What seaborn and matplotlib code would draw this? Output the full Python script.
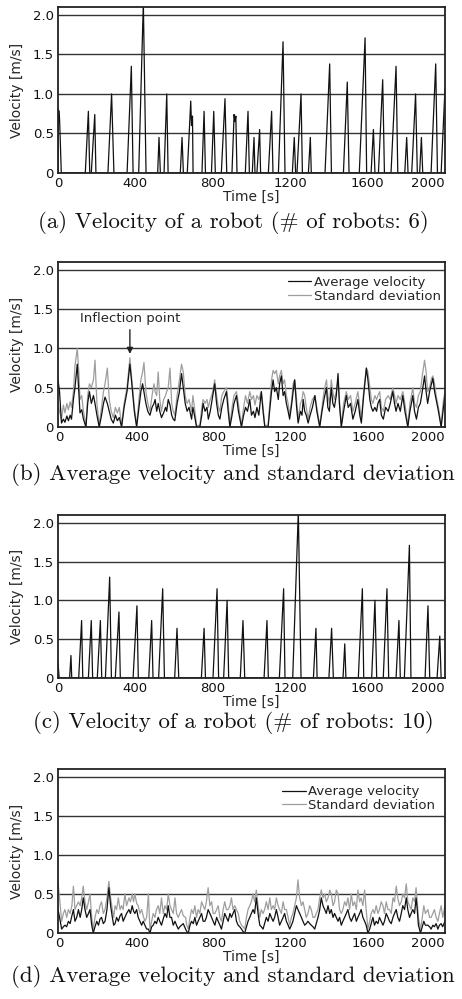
import numpy as np
import pandas as pd
import matplotlib
matplotlib.use('Agg')
import matplotlib.pyplot as plt
import seaborn as sns

# ---- (a) velocity of a single robot, 6 robots ----
time_a = [0, 2, 6, 9, 17,
          141, 157, 164, 172, 190, 196, 258, 277, 289, 357, 379, 388,
          417, 441, 455, 515, 522, 529, 548, 562, 569, 632, 641, 648,
          668, 686, 690, 695, 698, 744, 755, 762, 793, 805, 813,
          844, 863, 872, 899, 910, 915, 919, 925, 968, 982, 989,
          1004, 1013, 1018, 1028, 1042, 1047, 1087, 1104, 1111,
          1139, 1163, 1173, 1211, 1221, 1228, 1235, 1256, 1263,
          1294, 1304, 1309, 1380, 1404, 1413, 1475, 1495, 1504,
          1557, 1587, 1595, 1618, 1630, 1638, 1656, 1678, 1687,
          1721, 1747, 1756, 1792, 1802, 1809, 1828, 1848, 1857,
          1869, 1878, 1885, 1928, 1952, 1961, 1980, 2000]
vel_a = [0, 0.80, 0.78, 0.62, 0,
         0, 0.78, 0, 0, 0.74, 0, 0, 1.00, 0, 0, 1.35, 0,
         0, 2.15, 0, 0, 0.45, 0, 0, 1.00, 0, 0, 0.45, 0,
         0, 0.91, 0.60, 0.72, 0, 0, 0.78, 0, 0, 0.78, 0,
         0, 0.94, 0, 0, 0.74, 0.65, 0.72, 0, 0, 0.78, 0,
         0, 0.45, 0, 0, 0.55, 0, 0, 0.78, 0,
         0, 1.66, 0, 0, 0.45, 0, 0, 1.00, 0,
         0, 0.45, 0, 0, 1.38, 0, 0, 1.15, 0,
         0, 1.71, 0, 0, 0.55, 0, 0, 1.18, 0,
         0, 1.35, 0, 0, 0.45, 0, 0, 1.00, 0,
         0, 0.45, 0, 0, 1.38, 0, 0, 1.07]

# ---- (b) average velocity and standard deviation, 6 robots ----
time_b = [-8, 0, 10, 20, 28, 38, 46, 55, 62, 72, 80, 92, 100, 106, 115, 124, 137,
          146, 155, 165, 176, 184, 194, 206, 218, 228, 236, 248, 258, 268, 279,
          290, 300, 310, 322, 335, 350, 365, 375, 388, 400, 412, 422, 431, 438,
          448, 458, 469, 480, 490, 496, 504, 512, 520, 529, 540, 550, 556, 564,
          573, 582, 590, 598, 610, 622, 633, 642, 652, 662, 672, 685, 692, 700,
          711, 728, 738, 745, 755, 765, 772, 782, 795, 805, 815, 824, 832, 842,
          852, 866, 875, 884, 895, 905, 918, 928, 944, 955, 965, 975, 987, 996,
          1006, 1014, 1024, 1034, 1047, 1056, 1065, 1082, 1092, 1100, 1108, 1116,
          1125, 1135, 1142, 1151, 1160, 1168, 1177, 1186, 1194, 1205, 1212, 1220,
          1230, 1238, 1250, 1258, 1264, 1272, 1280, 1290, 1300, 1312, 1325, 1335,
          1350, 1362, 1372, 1385, 1392, 1400, 1410, 1418, 1426, 1436, 1445, 1452,
          1462, 1474, 1488, 1498, 1510, 1522, 1534, 1548, 1558, 1566, 1578, 1592,
          1600, 1610, 1618, 1626, 1636, 1645, 1652, 1661, 1670, 1680, 1692, 1705,
          1716, 1729, 1738, 1746, 1756, 1768, 1781, 1792, 1807, 1818, 1833, 1842,
          1852, 1862, 1872, 1882, 1894, 1902, 1910, 1920, 1930, 1937, 1946, 1954,
          1966, 1980, 1992, 2000]
avg_b = [0.60, 0.45, 0.05, 0.10, 0.06, 0.14, 0.08, 0.15, 0.10, 0.35, 0.50, 0.80, 0.45, 0.18, 0.22, 0.10, 0.00,
         0.30, 0.45, 0.30, 0.40, 0.30, 0.15, 0.00, 0.15, 0.30, 0.38, 0.30, 0.20, 0.10, 0.05,
         0.15, 0.08, 0.12, 0.00, 0.25, 0.45, 0.80, 0.55, 0.20, 0.00, 0.25, 0.45, 0.55, 0.45,
         0.30, 0.20, 0.15, 0.25, 0.30, 0.35, 0.20, 0.30, 0.20, 0.12, 0.18, 0.25, 0.20, 0.35,
         0.28, 0.15, 0.10, 0.08, 0.30, 0.45, 0.68, 0.50, 0.30, 0.20, 0.25, 0.10, 0.25, 0.15,
         0.00, 0.00, 0.15, 0.30, 0.20, 0.25, 0.10, 0.20, 0.40, 0.55, 0.30, 0.15, 0.10, 0.25,
         0.35, 0.45, 0.20, 0.00, 0.15, 0.30, 0.40, 0.20, 0.00, 0.15, 0.25, 0.20, 0.35, 0.15,
         0.20, 0.12, 0.25, 0.15, 0.45, 0.20, 0.00, 0.00, 0.25, 0.45, 0.60, 0.45,
         0.50, 0.35, 0.55, 0.65, 0.40, 0.45, 0.30, 0.20, 0.10, 0.30, 0.45, 0.60,
         0.25, 0.05, 0.20, 0.15, 0.35, 0.20, 0.15, 0.05, 0.15, 0.25, 0.40, 0.20,
         0.00, 0.20, 0.35, 0.50, 0.25, 0.20, 0.50, 0.30, 0.25, 0.40, 0.68, 0.30,
         0.00, 0.20, 0.40, 0.25, 0.30, 0.10, 0.20, 0.35, 0.15, 0.05, 0.40, 0.75,
         0.60, 0.35, 0.25, 0.20, 0.25, 0.20, 0.30, 0.35, 0.15, 0.10, 0.25, 0.20,
         0.30, 0.45, 0.30, 0.20, 0.30, 0.20, 0.40, 0.20, 0.00, 0.20, 0.40, 0.20,
         0.10, 0.25, 0.30, 0.45, 0.65, 0.45, 0.30, 0.45, 0.55, 0.62, 0.45, 0.35,
         0.20, 0.00, 0.25, 0.40]
std_b = [0.30, 0.20, 0.10, 0.28, 0.18, 0.30, 0.22, 0.32, 0.25, 0.45, 0.78, 1.00, 0.70, 0.35, 0.40, 0.20, 0.02,
         0.40, 0.55, 0.50, 0.60, 0.85, 0.30, 0.02, 0.25, 0.45, 0.55, 0.75, 0.35, 0.20, 0.12,
         0.25, 0.18, 0.25, 0.02, 0.30, 0.50, 0.88, 0.60, 0.25, 0.02, 0.35, 0.60, 0.70, 0.82,
         0.45, 0.30, 0.20, 0.40, 0.55, 0.45, 0.40, 0.70, 0.35, 0.20, 0.35, 0.40, 0.45, 0.50,
         0.75, 0.30, 0.20, 0.15, 0.40, 0.60, 0.80, 0.70, 0.40, 0.30, 0.35, 0.20, 0.40, 0.25,
         0.02, 0.02, 0.25, 0.35, 0.30, 0.35, 0.25, 0.35, 0.45, 0.60, 0.40, 0.25, 0.20, 0.40,
         0.45, 0.50, 0.30, 0.02, 0.25, 0.40, 0.45, 0.30, 0.02, 0.25, 0.40, 0.30, 0.45, 0.35,
         0.40, 0.28, 0.40, 0.35, 0.45, 0.25, 0.02, 0.02, 0.35, 0.60, 0.72, 0.68,
         0.72, 0.55, 0.65, 0.72, 0.55, 0.60, 0.40, 0.30, 0.15, 0.35, 0.55, 0.60,
         0.35, 0.10, 0.30, 0.35, 0.45, 0.40, 0.25, 0.10, 0.25, 0.35, 0.40, 0.25,
         0.02, 0.25, 0.45, 0.60, 0.40, 0.30, 0.60, 0.45, 0.35, 0.45, 0.60, 0.35,
         0.02, 0.30, 0.45, 0.35, 0.40, 0.20, 0.30, 0.45, 0.25, 0.10, 0.45, 0.75,
         0.70, 0.50, 0.35, 0.30, 0.40, 0.35, 0.40, 0.45, 0.25, 0.20, 0.35, 0.40,
         0.35, 0.50, 0.40, 0.30, 0.40, 0.35, 0.45, 0.30, 0.02, 0.30, 0.50, 0.30,
         0.25, 0.40, 0.45, 0.65, 0.85, 0.70, 0.45, 0.50, 0.62, 0.65, 0.55, 0.40,
         0.25, 0.02, 0.35, 0.45]

# ---- (c) velocity of a single robot, 10 robots ----
time_c = [0, 6,
          60, 67, 71, 107, 122, 128, 157, 172, 179, 203, 219, 226,
          245, 267, 276, 296, 315, 322, 388, 408, 415, 469, 484, 491,
          520, 541, 550, 603, 615, 624, 741, 755, 762, 801, 822, 830,
          856, 874, 882, 942, 956, 965, 1065, 1080, 1087, 1144, 1166, 1173,
          1213, 1242, 1256, 1320, 1333, 1339, 1400, 1414, 1423, 1473, 1482, 1488,
          1552, 1573, 1580, 1621, 1638, 1647, 1681, 1700, 1709, 1747, 1762, 1769,
          1790, 1816, 1824, 1897, 1912, 1921, 1959, 1973, 1980, 2000]
vel_c = [0.20, 0,
         0, 0.29, 0, 0, 0.74, 0, 0, 0.74, 0, 0, 0.74, 0,
         0, 1.30, 0, 0, 0.85, 0, 0, 0.93, 0, 0, 0.74, 0,
         0, 1.15, 0, 0, 0.64, 0, 0, 0.64, 0, 0, 1.15, 0,
         0, 1.00, 0, 0, 0.74, 0, 0, 0.74, 0, 0, 1.15, 0,
         0, 2.15, 0, 0, 0.64, 0, 0, 0.64, 0, 0, 0.44, 0,
         0, 1.15, 0, 0, 1.00, 0, 0, 1.15, 0, 0, 0.74, 0,
         0, 1.71, 0, 0, 0.93, 0, 0, 0.54, 0, 0]

# ---- (d) average velocity and standard deviation, 10 robots ----
time_d = [-8, 0, 11, 20, 28, 37, 46, 55, 64, 72, 80, 89, 98, 107, 115, 123, 132, 141,
          150, 158, 167, 175, 184, 193, 202, 210, 218, 227, 236, 246, 256, 265, 274,
          281, 288, 296, 305, 314, 322, 330, 339, 348, 360, 368, 377, 384, 391, 400,
          408, 417, 426, 434, 443, 452, 461, 469, 478, 486, 495, 503, 512, 520, 529,
          538, 547, 556, 564, 573, 581, 590, 599, 607, 616, 624, 633, 642, 654, 660,
          668, 677, 685, 694, 702, 711, 719, 728, 737, 745, 754, 762, 771, 780, 789,
          797, 806, 815, 823, 832, 840, 849, 857, 866, 875, 884, 892, 900, 909, 918,
          927, 935, 944, 952, 961, 970, 978, 987, 995, 1004, 1012, 1021, 1030, 1039,
          1047, 1056, 1064, 1073, 1082, 1091, 1099, 1108, 1116, 1125, 1134, 1142,
          1151, 1160, 1168, 1177, 1186, 1194, 1203, 1211, 1220, 1229, 1237, 1246,
          1255, 1263, 1272, 1280, 1289, 1298, 1306, 1315, 1324, 1332, 1341, 1350,
          1358, 1367, 1376, 1384, 1393, 1402, 1410, 1419, 1427, 1436, 1445, 1453,
          1462, 1470, 1479, 1488, 1496, 1505, 1514, 1522, 1531, 1540, 1548, 1557,
          1565, 1574, 1583, 1591, 1600, 1609, 1617, 1626, 1634, 1643, 1652, 1660,
          1669, 1678, 1686, 1695, 1704, 1712, 1721, 1730, 1738, 1747, 1755, 1764,
          1773, 1781, 1790, 1799, 1807, 1816, 1824, 1833, 1842, 1850, 1856, 1862,
          1873, 1882, 1890, 1898, 1911, 1920, 1928, 1937, 1945, 1954, 1963, 1971,
          1980, 1988, 2000]
avg_d = [0.30, 0.20, 0.05, 0.08, 0.10, 0.08, 0.15, 0.12, 0.22, 0.30, 0.15, 0.20, 0.30, 0.20, 0.30, 0.45, 0.30, 0.20,
         0.25, 0.30, 0.10, 0.00, 0.08, 0.15, 0.10, 0.18, 0.20, 0.12, 0.15, 0.30, 0.58, 0.35, 0.20,
         0.10, 0.12, 0.20, 0.15, 0.22, 0.25, 0.15, 0.20, 0.25, 0.30, 0.25, 0.35, 0.28, 0.25, 0.30,
         0.20, 0.15, 0.10, 0.15, 0.10, 0.05, 0.05, 0.00, 0.08, 0.10, 0.15, 0.12, 0.20, 0.15, 0.10,
         0.18, 0.25, 0.20, 0.35, 0.20, 0.20, 0.10, 0.15, 0.10, 0.05, 0.08, 0.10, 0.12, 0.05, 0.02,
         0.00, 0.10, 0.15, 0.12, 0.20, 0.10, 0.15, 0.20, 0.25, 0.15, 0.15, 0.20, 0.30, 0.25, 0.20,
         0.15, 0.10, 0.20, 0.15, 0.10, 0.05, 0.15, 0.25, 0.20, 0.15, 0.25, 0.20, 0.25, 0.30, 0.15,
         0.10, 0.08, 0.05, 0.02, 0.00, 0.08, 0.15, 0.20, 0.25, 0.30, 0.25, 0.45, 0.25, 0.10,
         0.08, 0.05, 0.12, 0.20, 0.15, 0.25, 0.20, 0.15, 0.20, 0.30, 0.20, 0.10,
         0.15, 0.20, 0.25, 0.15, 0.10, 0.05, 0.10, 0.15, 0.25, 0.35, 0.30, 0.25,
         0.20, 0.15, 0.10, 0.12, 0.15, 0.12, 0.10, 0.08, 0.05, 0.12, 0.20, 0.30,
         0.45, 0.35, 0.30, 0.25, 0.35, 0.25, 0.30, 0.20, 0.25, 0.20, 0.15, 0.20,
         0.10, 0.15, 0.20, 0.25, 0.30, 0.20, 0.15, 0.20, 0.25, 0.15, 0.20, 0.25,
         0.30, 0.20, 0.15, 0.10, 0.00, 0.05, 0.12, 0.20, 0.10, 0.15, 0.12, 0.20,
         0.15, 0.10, 0.15, 0.25, 0.20, 0.15, 0.12, 0.20, 0.25, 0.30, 0.20, 0.15,
         0.25, 0.35, 0.30, 0.45, 0.30, 0.20, 0.25, 0.30, 0.25, 0.45, 0.30, 0.10,
         0.00, 0.08, 0.15, 0.10, 0.10, 0.08, 0.05, 0.10, 0.08, 0.12, 0.05, 0.10,
         0.12, 0.08, 0.15]
std_d = [0.65, 0.45, 0.15, 0.25, 0.30, 0.20, 0.30, 0.25, 0.35, 0.60, 0.30, 0.35, 0.40, 0.35, 0.45, 0.60, 0.40, 0.30,
         0.40, 0.50, 0.20, 0.05, 0.20, 0.30, 0.25, 0.35, 0.40, 0.25, 0.30, 0.45, 0.66, 0.45, 0.30,
         0.20, 0.35, 0.30, 0.45, 0.30, 0.35, 0.30, 0.50, 0.35, 0.45, 0.40, 0.50, 0.40, 0.50, 0.38,
         0.35, 0.25, 0.30, 0.22, 0.15, 0.20, 0.50, 0.05, 0.15, 0.25, 0.20, 0.30, 0.35, 0.25, 0.45,
         0.25, 0.35, 0.30, 0.50, 0.35, 0.30, 0.25, 0.45, 0.25, 0.20, 0.25, 0.30, 0.22, 0.20, 0.10,
         0.05, 0.20, 0.30, 0.25, 0.35, 0.20, 0.30, 0.25, 0.40, 0.35, 0.30, 0.40, 0.58, 0.35, 0.40,
         0.25, 0.25, 0.30, 0.35, 0.20, 0.15, 0.30, 0.40, 0.30, 0.30, 0.35, 0.45, 0.30, 0.35, 0.30,
         0.25, 0.15, 0.10, 0.08, 0.05, 0.20, 0.30, 0.35, 0.40, 0.50, 0.40, 0.55, 0.35, 0.20,
         0.30, 0.25, 0.30, 0.40, 0.30, 0.45, 0.30, 0.35, 0.30, 0.45, 0.35, 0.30,
         0.25, 0.40, 0.30, 0.30, 0.20, 0.10, 0.20, 0.25, 0.35, 0.45, 0.68, 0.45,
         0.35, 0.40, 0.30, 0.20, 0.25, 0.35, 0.30, 0.20, 0.20, 0.25, 0.30, 0.45,
         0.55, 0.45, 0.50, 0.40, 0.45, 0.55, 0.50, 0.35, 0.40, 0.55, 0.50, 0.30,
         0.25, 0.30, 0.40, 0.35, 0.45, 0.30, 0.50, 0.35, 0.40, 0.30, 0.55, 0.40,
         0.45, 0.35, 0.55, 0.30, 0.05, 0.15, 0.25, 0.30, 0.25, 0.35, 0.25, 0.30,
         0.40, 0.35, 0.25, 0.40, 0.30, 0.30, 0.25, 0.45, 0.40, 0.60, 0.45, 0.35,
         0.40, 0.50, 0.45, 0.63, 0.40, 0.35, 0.30, 0.45, 0.40, 0.58, 0.40, 0.20,
         0.05, 0.20, 0.35, 0.25, 0.30, 0.20, 0.20, 0.25, 0.30, 0.20, 0.15, 0.25,
         0.35, 0.20, 0.35]

x_ticks = [0, 400, 800, 1200, 1600, 2000]
y_ticks = [0, 0.5, 1.0, 1.5, 2.0]
y_tick_labels = ['0', '0.5', '1.0', '1.5', '2.0']

captions = ['(a) Velocity of a robot (# of robots: 6)',
            '(b) Average velocity and standard deviation',
            '(c) Velocity of a robot (# of robots: 10)',
            '(d) Average velocity and standard deviation']

GRAY = '#9e9e9e'
BLACK = '#111111'


def style_axis(ax, xmin):
    ax.set_xlim(xmin, 2000)
    ax.set_ylim(0, 2.1)
    ax.set_xticks(x_ticks)
    labels = ax.set_xticklabels([str(t) for t in x_ticks])
    labels[-1].set_ha('right')
    ax.set_yticks(y_ticks)
    ax.set_yticklabels(y_tick_labels)
    ax.tick_params(length=0, pad=3, labelsize=9.5, colors='#111111')
    ax.set_axisbelow(True)
    ax.yaxis.grid(True, color='#333333', lw=1.0)
    ax.xaxis.grid(False)
    for s in ax.spines.values():
        s.set_visible(True)
        s.set_color('#222222')
        s.set_linewidth(1.3)
    ax.set_xlabel('Time [s]', fontsize=10, labelpad=0)
    ax.set_ylabel('Velocity [m/s]', fontsize=10, labelpad=6)


def spike_panel(ax, t, v):
    sns.lineplot(x=t, y=v, ax=ax, color=BLACK, lw=0.9, sort=False, estimator=None)
    style_axis(ax, 0)


def stats_panel(ax, t, avg, std, legend_anchor):
    df = pd.DataFrame({'t': t, 'avg': avg, 'std': std})
    # grey std first, black average on top
    sns.lineplot(data=df, x='t', y='std', ax=ax, color=GRAY, lw=0.9, sort=False, estimator=None)
    std_line = ax.lines[-1]
    sns.lineplot(data=df, x='t', y='avg', ax=ax, color=BLACK, lw=0.9, sort=False, estimator=None)
    avg_line = ax.lines[-1]
    style_axis(ax, -8)
    ax.legend([avg_line, std_line], ['Average velocity', 'Standard deviation'],
              loc='upper right', bbox_to_anchor=legend_anchor, frameon=False,
              fontsize=9.5, handlelength=1.8, handletextpad=0.2,
              labelspacing=0.05, borderpad=0, borderaxespad=0)


sns.set_theme(style='white')
plt.rcParams['font.family'] = ['DejaVu Sans']

fig = plt.figure(figsize=(4.62, 9.99), dpi=100)

# axes boxes in pixels (top, bottom) measured from the top of the figure
boxes = [(7, 173), (262, 427), (515, 678), (769, 933)]
axes = []
for top, bottom in boxes:
    axes.append(fig.add_axes([58 / 462, 1 - bottom / 999, 387 / 462, (bottom - top) / 999]))

spike_panel(axes[0], time_a, vel_a)
stats_panel(axes[1], time_b, avg_b, std_b, (0.99, 0.915))
spike_panel(axes[2], time_c, vel_c)
stats_panel(axes[3], time_d, avg_d, std_d, (0.975, 0.90))

axes[1].annotate('Inflection point', xy=(365, 0.93), xytext=(365, 1.38),
                 ha='center', va='center', fontsize=9.5,
                 arrowprops=dict(arrowstyle='-|>', color='#222222', lw=1.0,
                                 mutation_scale=9, shrinkA=1, shrinkB=0))

caption_y = [223, 475, 723, 977]
for cap, y in zip(captions, caption_y):
    fig.text(233 / 462, 1 - y / 999, cap, ha='center', va='center',
             fontsize=16.5, family='cmr10', color='#111111')

fig.savefig('out.png', dpi=100)
plt.close(fig)
